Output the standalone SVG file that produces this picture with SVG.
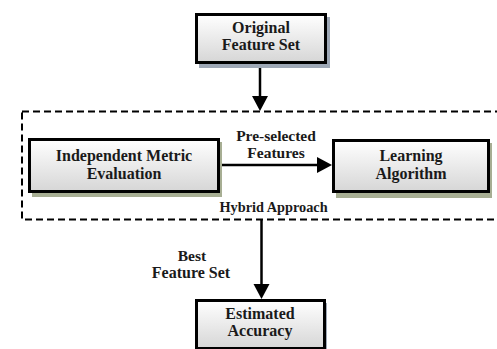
<svg xmlns="http://www.w3.org/2000/svg" width="497" height="349" viewBox="0 0 497 349">
  <style>
    .box { stroke: #000; stroke-width: 3; fill: url(#boxfill); }
    .sh-blue { fill: #9ea8b6; }
    .sh-olive { fill: #a7ae93; }
    text { font-family: "Liberation Serif", "Times New Roman", serif; font-weight: bold; font-size: 16px; fill: #1a1a1a; text-anchor: middle; }
    .small { font-size: 14.3px; }
    .mid { font-size: 15.5px; }
    .line { stroke: #000; stroke-width: 2.5; fill: none; }
    .dash { stroke: #000; stroke-width: 2; fill: none; stroke-dasharray: 7 4; }
  </style>
  <defs>
    <linearGradient id="boxfill" x1="0" y1="0" x2="0" y2="1">
      <stop offset="0" stop-color="#ffffff"/>
      <stop offset="1" stop-color="#d6d6d6"/>
    </linearGradient>
  </defs>

  <!-- dashed frame around the hybrid stage -->
  <rect id="hybrid-frame" class="dash" x="22" y="111.5" width="490" height="108"/>
  <text class="small" x="273.5" y="212">Hybrid Approach</text>

  <g id="connectors">
    <line class="line" x1="260" y1="64" x2="260" y2="97"/>
    <polygon points="252,96 268,96 260,111"/>
    <line class="line" x1="220" y1="165" x2="318" y2="165"/>
    <polygon points="317,157 317,173 332,165"/>
    <line class="line" x1="261.5" y1="220" x2="261.5" y2="285"/>
    <polygon points="253.5,284 269.5,284 261.5,299"/>
    <text class="mid" x="276" y="141">Pre-selected</text>
    <text class="mid" x="276" y="158">Features</text>
    <text class="mid" x="192" y="261">Best</text>
    <text x="191" y="278">Feature Set</text>
  </g>

  <g id="original">
    <rect class="sh-blue" x="199" y="17" width="131" height="51"/>
    <rect class="box" x="196.5" y="14.5" width="129" height="48"/>
    <text x="261" y="33">Original</text>
    <text x="261" y="50">Feature Set</text>
  </g>

  <g id="independent">
    <rect class="sh-olive" x="32" y="142" width="190" height="55"/>
    <rect class="box" x="29.5" y="139.5" width="189" height="52"/>
    <text x="124" y="161">Independent Metric</text>
    <text x="124" y="179">Evaluation</text>
  </g>

  <g id="learning">
    <rect class="sh-olive" x="336" y="143" width="156" height="55"/>
    <rect class="box" x="333.5" y="140.5" width="155" height="51"/>
    <text x="411" y="161">Learning</text>
    <text x="411" y="179">Algorithm</text>
  </g>

  <g id="estimated">
    <rect class="sh-blue" x="199" y="303" width="128" height="50"/>
    <rect class="box" x="196.5" y="300.5" width="128" height="48"/>
    <text x="260" y="319">Estimated</text>
    <text x="260" y="336">Accuracy</text>
  </g>
</svg>
